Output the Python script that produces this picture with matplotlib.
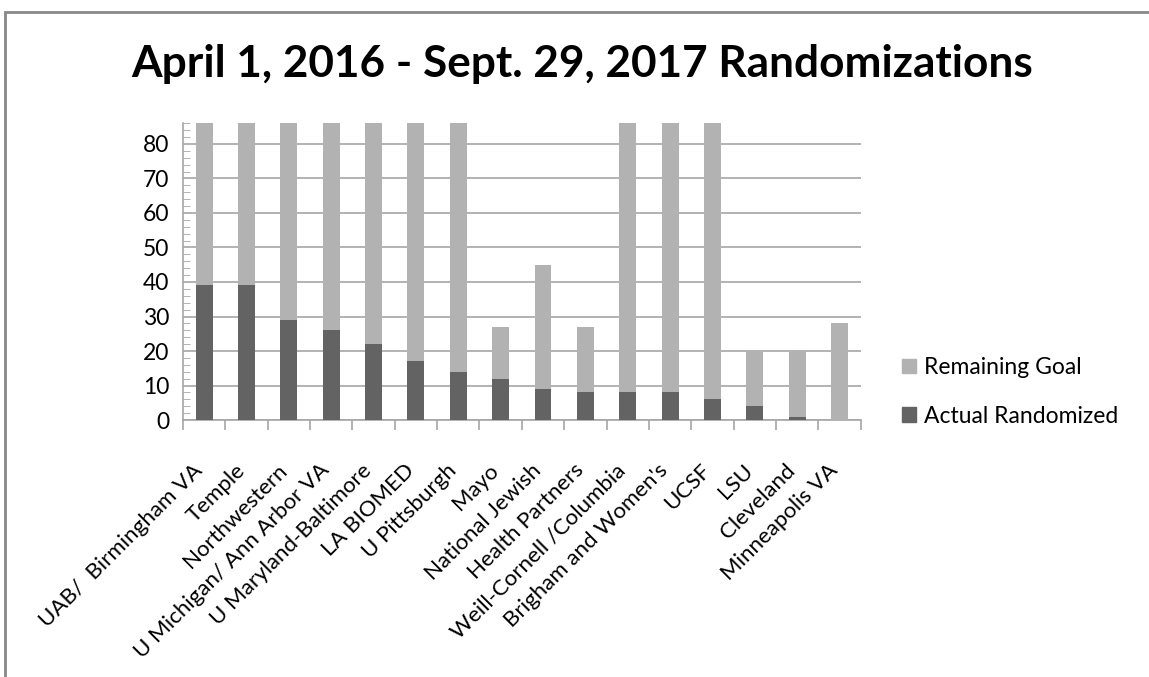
import matplotlib.pyplot as plt
import numpy as np
from matplotlib.patches import Patch, Rectangle
from matplotlib.ticker import MultipleLocator, FixedLocator
from matplotlib.transforms import ScaledTranslation

sites = ["UAB/  Birmingham VA", "Temple", "Northwestern", "U Michigan/ Ann Arbor VA",
         "U Maryland-Baltimore", "LA BIOMED", "U Pittsburgh", "Mayo", "National Jewish",
         "Health Partners", "Weill-Cornell /Columbia", "Brigham and Women's", "UCSF",
         "LSU", "Cleveland", "Minneapolis VA"]
actual = [39, 39, 29, 26, 22, 17, 14, 12, 9, 8, 8, 8, 6, 4, 1, 0]
remaining = [47, 47, 57, 60, 64, 69, 72, 15, 36, 19, 78, 78, 80, 16, 19, 28]

dark = "#636363"
light = "#b2b2b2"
grid_c = "#a6a6a6"

plt.rcParams['font.family'] = ['Lato', 'DejaVu Sans']

fig = plt.figure(figsize=(11.49, 6.77), dpi=100)
ax = fig.add_axes([0.1593, 0.3796, 0.5897, 0.4383])

x = np.arange(len(sites))
ax.bar(x, actual, width=0.4, color=dark, zorder=3)
ax.bar(x, remaining, width=0.4, bottom=actual, color=light, zorder=3)

ax.set_xlim(-0.5, len(sites) - 0.5)
ax.set_ylim(0, 86)
ax.yaxis.set_major_locator(MultipleLocator(10))
ax.yaxis.set_minor_locator(MultipleLocator(2))
ax.grid(axis='y', color=grid_c, lw=1.2, zorder=0)

for s in ['top', 'right']:
    ax.spines[s].set_visible(False)
for s in ['left', 'bottom']:
    ax.spines[s].set_color(grid_c)
    ax.spines[s].set_linewidth(1.2)

ax.tick_params(axis='y', which='major', length=0, labelsize=16.5, pad=10)
ax.tick_params(axis='y', which='minor', direction='in', length=5, color=grid_c)

ax.set_xticks(x)
ax.set_xticklabels(sites, rotation=45, ha='right', rotation_mode='anchor', fontsize=16)
ax.tick_params(axis='x', which='major', length=0, pad=8)
ax.xaxis.set_minor_locator(FixedLocator(np.arange(-0.5, len(sites), 1.0)))
ax.tick_params(axis='x', which='minor', length=7, color=grid_c, width=1.2)
shift = ScaledTranslation(-0.12, -0.29, fig.dpi_scale_trans)
for lbl in ax.get_xticklabels():
    lbl.set_transform(lbl.get_transform() + shift)

fig.text(0.507, 0.905, "April 1, 2016 - Sept. 29, 2017 Randomizations",
         ha='center', va='center', fontsize=31.8, fontweight='bold')

handles = [Patch(color=light, label="Remaining Goal"),
           Patch(color=dark, label="Actual Randomized")]
fig.legend(handles=handles, loc='center left', bbox_to_anchor=(0.767, 0.421),
           frameon=False, fontsize=16.5, handlelength=0.6, handleheight=0.6,
           labelspacing=1.2, handletextpad=0.35)

# chart frame, partly cropped in the source image
fig.patches.append(Rectangle((5 / 1149, -0.1), 1.2, 1.1 - 12 / 677, transform=fig.transFigure,
                             fill=False, edgecolor="#888888", lw=2))

fig.savefig("out.png", dpi=100)
